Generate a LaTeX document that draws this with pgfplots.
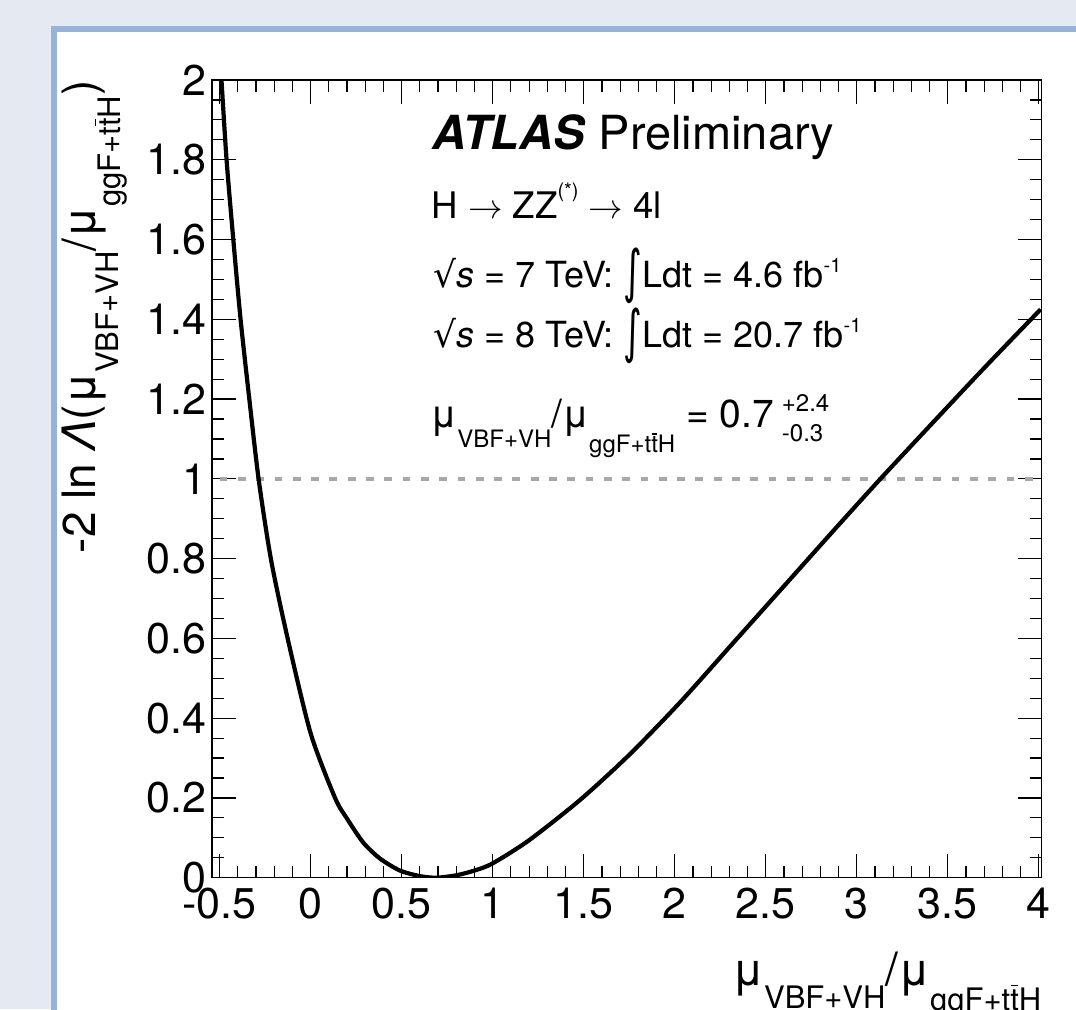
\documentclass[border=0pt]{standalone}
\usepackage{pgfplots}
\pgfplotsset{compat=1.18}
\usepackage{fontspec}
\setmainfont{TeX Gyre Heros}
\newfontfamily\dejavu{DejaVu Sans}
\usepackage{graphicx}

\definecolor{bgcol}{RGB}{229,234,242}
\definecolor{bordercol}{RGB}{150,180,218}
\definecolor{dashcol}{RGB}{168,168,168}

\newcommand{\ttb}{t\rlap{\hspace{0.02em}\raisebox{0.76em}{\rule{0.24em}{0.06em}}}t}
\newcommand{\lsub}[2]{\raisebox{-#1}{\fontsize{15.5}{15.5}\selectfont #2}}
\newcommand{\tsub}[2]{\raisebox{-#1}{\fontsize{12}{12}\selectfont #2}}
\newcommand{\intsym}{\raisebox{-2pt}{\scalebox{1}[1.6]{\dejavu ∫}}}
\newcommand{\sqrts}{{\dejavu √}\textit{s}}

\pgfplotstableread{
x y
-0.500 2.070
-0.490 2.000
-0.462 1.800
-0.425 1.600
-0.385 1.400
-0.337 1.200
-0.286 1.000
-0.218 0.798
-0.126 0.599
0.000 0.362
0.134 0.200
0.200 0.148
0.289 0.088
0.381 0.048
0.490 0.018
0.600 0.004
0.690 0.000
0.800 0.006
0.900 0.018
1.000 0.036
1.200 0.094
1.480 0.195
1.750 0.308
2.030 0.440
2.320 0.588
2.600 0.731
2.870 0.869
3.130 1.000
3.420 1.142
3.700 1.278
4.010 1.425
}\curvedata

\begin{document}
\begin{tikzpicture}
\useasboundingbox (0,0) rectangle (538pt,504.5pt);
\clip (0,0) rectangle (538pt,504.5pt);
\fill[bgcol] (0,0) rectangle (538pt,504.5pt);
\fill[bordercol] (25.5pt,-10pt) rectangle (560pt,491.5pt);
\fill[white] (28.5pt,-10pt) rectangle (560pt,488.5pt);
\begin{axis}[
  scale only axis,
  width=414.85pt, height=398.85pt,
  at={(106pt,65.65pt)}, anchor=south west,
  xmin=-0.542, xmax=4.016, ymin=0, ymax=2,
  xtick={-0.5,0,0.5,1,1.5,2,2.5,3,3.5,4},
  xticklabels={-0.5,0,0.5,1,1.5,2,2.5,3,3.5,4},
  ytick={0,0.2,0.4,0.6,0.8,1,1.2,1.4,1.6,1.8,2},
  yticklabels={0,0.2,0.4,0.6,0.8,1,1.2,1.4,1.6,1.8,2},
  minor x tick num=4, minor y tick num=3,
  tick align=inside,
  major tick length=12pt, minor tick length=6pt,
  every tick/.style={black, line width=0.6pt},
  axis line style={line width=0.75pt},
  tick label style={font=\fontsize{21.5}{21.5}\selectfont, inner sep=0pt},
  xticklabel style={yshift=-5.2pt},
  yticklabel style={xshift=-2.5pt},
  xlabel={μ\lsub{11.5pt}{VBF+VH}/μ\lsub{12.5pt}{ggF+\ttb H}},
  xlabel style={at={(axis description cs:1,-0.1345)}, anchor=base east, inner sep=0pt, font=\fontsize{23}{23}\selectfont},
  ylabel={-2 ln \textit{Λ}(μ\lsub{11.5pt}{VBF+VH}/μ\lsub{12.5pt}{ggF+\ttb H})},
  ylabel style={at={(axis description cs:-0.141,1)}, anchor=base east, inner sep=0pt, font=\fontsize{23}{23}\selectfont},
  clip=true,
]
\addplot[dashcol, line width=1.75pt, dash pattern=on 3.9pt off 5.25pt] coordinates {(-0.5,1) (4,1)};
\addplot[black, line width=2.1pt, smooth, tension=0.45] table[x=x,y=y] {\curvedata};

\node[anchor=base west, inner sep=0pt, font=\fontsize{23.5}{23.5}\selectfont] at (rel axis cs:0.2652,0.9123) {\textbf{\textit{ATLAS}} Preliminary};
\node[anchor=base west, inner sep=0pt, font=\fontsize{18.3}{18.3}\selectfont] at (rel axis cs:0.2640,0.8258) {H $\rightarrow$ ZZ\raisebox{10.5pt}{\fontsize{10}{10}\selectfont (*)} $\rightarrow$ 4l};
\node[anchor=base west, inner sep=0pt, font=\fontsize{18}{18}\selectfont] at (rel axis cs:0.2664,0.7393) {\sqrts{} = 7 TeV: \intsym Ldt = 4.6 fb\raisebox{7.5pt}{\fontsize{10}{10}\selectfont -1}};
\node[anchor=base west, inner sep=0pt, font=\fontsize{18}{18}\selectfont] at (rel axis cs:0.2664,0.6641) {\sqrts{} = 8 TeV: \intsym Ldt = 20.7 fb\raisebox{7.5pt}{\fontsize{10}{10}\selectfont -1}};
\node[anchor=base west, inner sep=0pt, font=\fontsize{19.5}{19.5}\selectfont] at (rel axis cs:0.2627,0.5638) {μ\tsub{10pt}{VBF+VH}/μ\tsub{12.5pt}{ggF+\ttb H} = 0.7\hspace{4pt}\rlap{\raisebox{8pt}{\fontsize{12}{12}\selectfont +2.4}}\raisebox{-7pt}{\fontsize{12}{12}\selectfont -0.3}};
\end{axis}
\end{tikzpicture}
\end{document}
